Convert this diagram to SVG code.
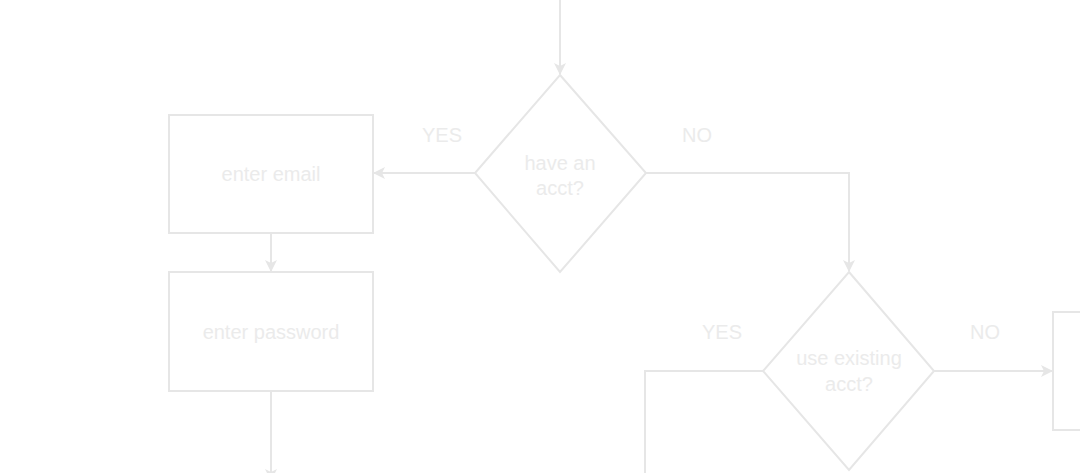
<svg xmlns="http://www.w3.org/2000/svg" width="1080" height="473" viewBox="0 0 1080 473">
<style>
.shape{fill:#ffffff;stroke:#e6e6e6;stroke-width:2}
.edge{fill:none;stroke:#e6e6e6;stroke-width:2}
.t{font-family:"Liberation Sans",Arial,sans-serif;font-size:20px;fill:#ebebeb;text-anchor:middle}
</style>
<defs>
<marker id="arr" viewBox="0 0 12 12" refX="11" refY="6" markerWidth="12" markerHeight="12" markerUnits="userSpaceOnUse" orient="auto">
<path d="M0,0 L12,6 L0,12 L3,6 Z" fill="#e6e6e6"/>
</marker>
</defs>
<g id="connectors">
<path class="edge" d="M560,0 V74" marker-end="url(#arr)"/>
<path class="edge" d="M475,173 H374" marker-end="url(#arr)"/>
<path class="edge" d="M271,233 V271" marker-end="url(#arr)"/>
<path class="edge" d="M271,391 V480" marker-end="url(#arr)"/>
<path class="edge" d="M646,173 H849 V271" marker-end="url(#arr)"/>
<path class="edge" d="M763,371 H645 V480"/>
<path class="edge" d="M934,371 H1052" marker-end="url(#arr)"/>
<text class="t" x="442" y="142">YES</text>
<text class="t" x="697" y="142">NO</text>
<text class="t" x="722" y="339">YES</text>
<text class="t" x="985" y="339">NO</text>
</g>
<g id="d1">
<polygon class="shape" points="560,75 646,173 560,272 475,173"/>
<text class="t" x="560" y="170">have an</text>
<text class="t" x="560" y="195">acct?</text>
</g>
<g id="email">
<rect class="shape" x="169" y="115" width="204" height="118"/>
<text class="t" x="271" y="181">enter email</text>
</g>
<g id="password">
<rect class="shape" x="169" y="272" width="204" height="119"/>
<text class="t" x="271" y="339">enter password</text>
</g>
<g id="d2">
<polygon class="shape" points="849,272 934,371 849,470 763,371"/>
<text class="t" x="849" y="365">use existing</text>
<text class="t" x="849" y="391">acct?</text>
</g>
<g id="box3">
<rect class="shape" x="1053" y="312" width="40" height="118"/>
</g>
</svg>
